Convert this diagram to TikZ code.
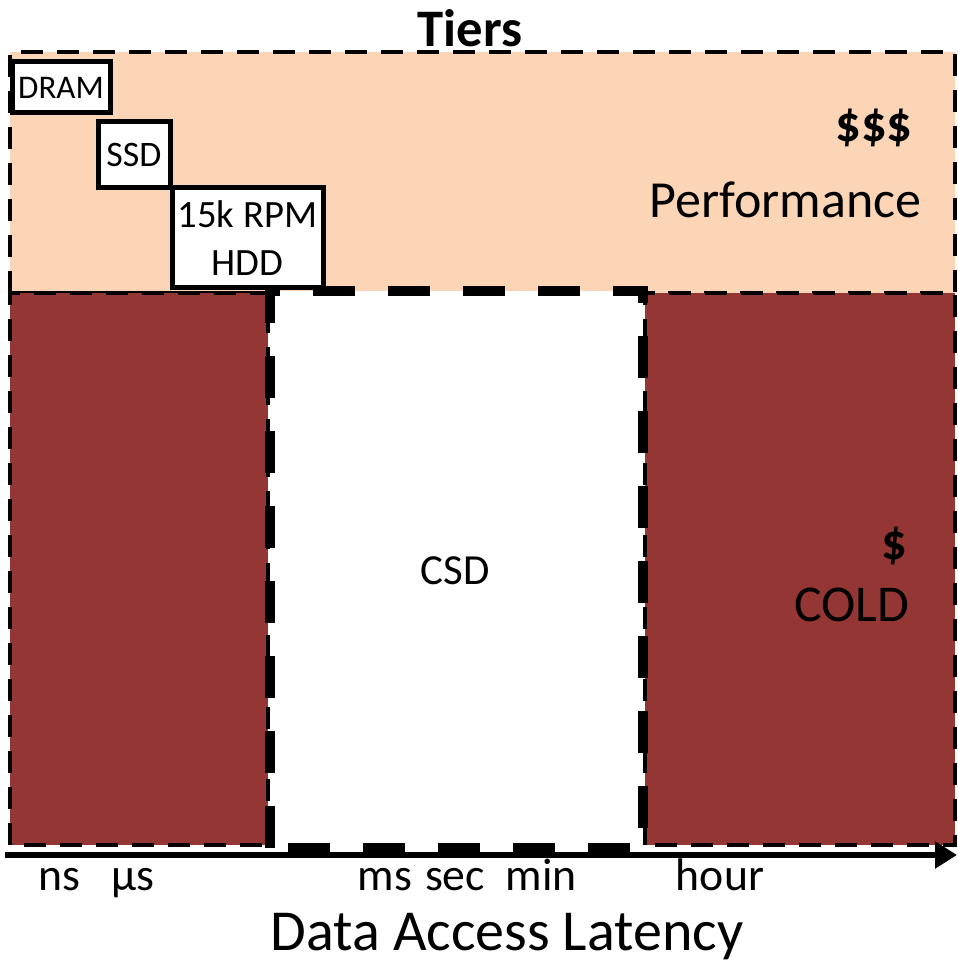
\documentclass[tikz,border=0pt]{standalone}
\usepackage{fontspec}
\setmainfont{Carlito}
\usepackage{tikz}
\usetikzlibrary{arrows.meta}

\definecolor{peach}{HTML}{FBD5B5}
\definecolor{maroon}{HTML}{943634}

\begin{document}
\begin{tikzpicture}
		\tikzset{region/.style={draw, line width = 0.04cm, dash pattern = on 0.22cm off 0.14cm}}
		\tikzset{csdzone/.style={draw, line width = 0.1cm, dash pattern = on 0.42cm off 0.33cm}}
		\tikzset{tier/.style={shape = rectangle, draw, fill = white, line width = 0.05cm, inner sep = 0pt, align = center}}
		\tikzset{axis/.style={->, > = {Triangle[length = 0.22cm, width = 0.26cm]}, line width = 0.06cm}}
		\tikzset{label/.style={inner sep = 0pt}}
		\tikzset{unit/.style={label, font = \fontsize{13}{15}\selectfont, anchor = base}}
		\useasboundingbox (0, 0) rectangle (9.57, 9.61);
					%regions
					\draw[region, fill = peach] (0.10, 6.68) rectangle (9.55, 9.09);
					\draw[region, fill = maroon] (0.10, 1.16) rectangle (2.68, 6.68);
					\draw[region, fill = maroon] (6.45, 1.16) rectangle (9.55, 6.68);
					\draw[csdzone, fill = white] (2.70, 1.13) rectangle (6.43, 6.70);
					%tiers
					\node[tier, minimum width = 0.98cm, minimum height = 0.51cm, font = \fontsize{9.4}{11}\selectfont] (dram) at (0.61, 8.735) {DRAM};
					\node[tier, minimum width = 0.72cm, minimum height = 0.66cm, font = \fontsize{10.2}{12}\selectfont] (ssd) at (1.34, 8.06) {SSD};
					\node[tier, minimum width = 1.51cm, minimum height = 1.0cm, font = \fontsize{11}{13.6}\selectfont] (hdd) at (2.475, 7.23) {15k RPM\\HDD};
					%labels
					\node[label, font = \fontsize{15}{18}\selectfont\bfseries] (tiers) at (4.70, 9.33) {Tiers};
					\node[label, anchor = east, font = \fontsize{14.4}{17}\selectfont\bfseries] (rich) at (9.13, 8.33) {\$\$\$};
					\node[label, anchor = base east, font = \fontsize{14.8}{18}\selectfont] (perf) at (9.22, 7.43) {Performance};
					\node[label, anchor = base east, font = \fontsize{14.4}{17}\selectfont\bfseries] (cheap) at (9.08, 4.01) {\$};
					\node[label, anchor = base east, font = \fontsize{14.7}{18}\selectfont] (cold) at (9.10, 3.39) {COLD};
					\node[label, anchor = base, font = \fontsize{12.2}{15}\selectfont] (csd) at (4.55, 3.76) {CSD};
					%axis
					\coordinate (origin) at (0.05, 1.06);
					\coordinate (far) at (9.57, 1.06);
					\draw[axis] (origin) -- (far);
					\node[unit] (ns) at (0.59, 0.71) {ns};
					\node[unit] (us) at (1.33, 0.71) {µs};
					\node[unit] (ms) at (3.85, 0.71) {ms};
					\node[unit] (sec) at (4.55, 0.71) {sec};
					\node[unit] (min) at (5.41, 0.71) {min};
					\node[unit] (hour) at (7.20, 0.71) {hour};
					\node[label, anchor = base, font = \fontsize{16.5}{20}\selectfont] (latency) at (5.07, 0.10) {Data Access Latency};
					
					\end{tikzpicture}
\end{document}
